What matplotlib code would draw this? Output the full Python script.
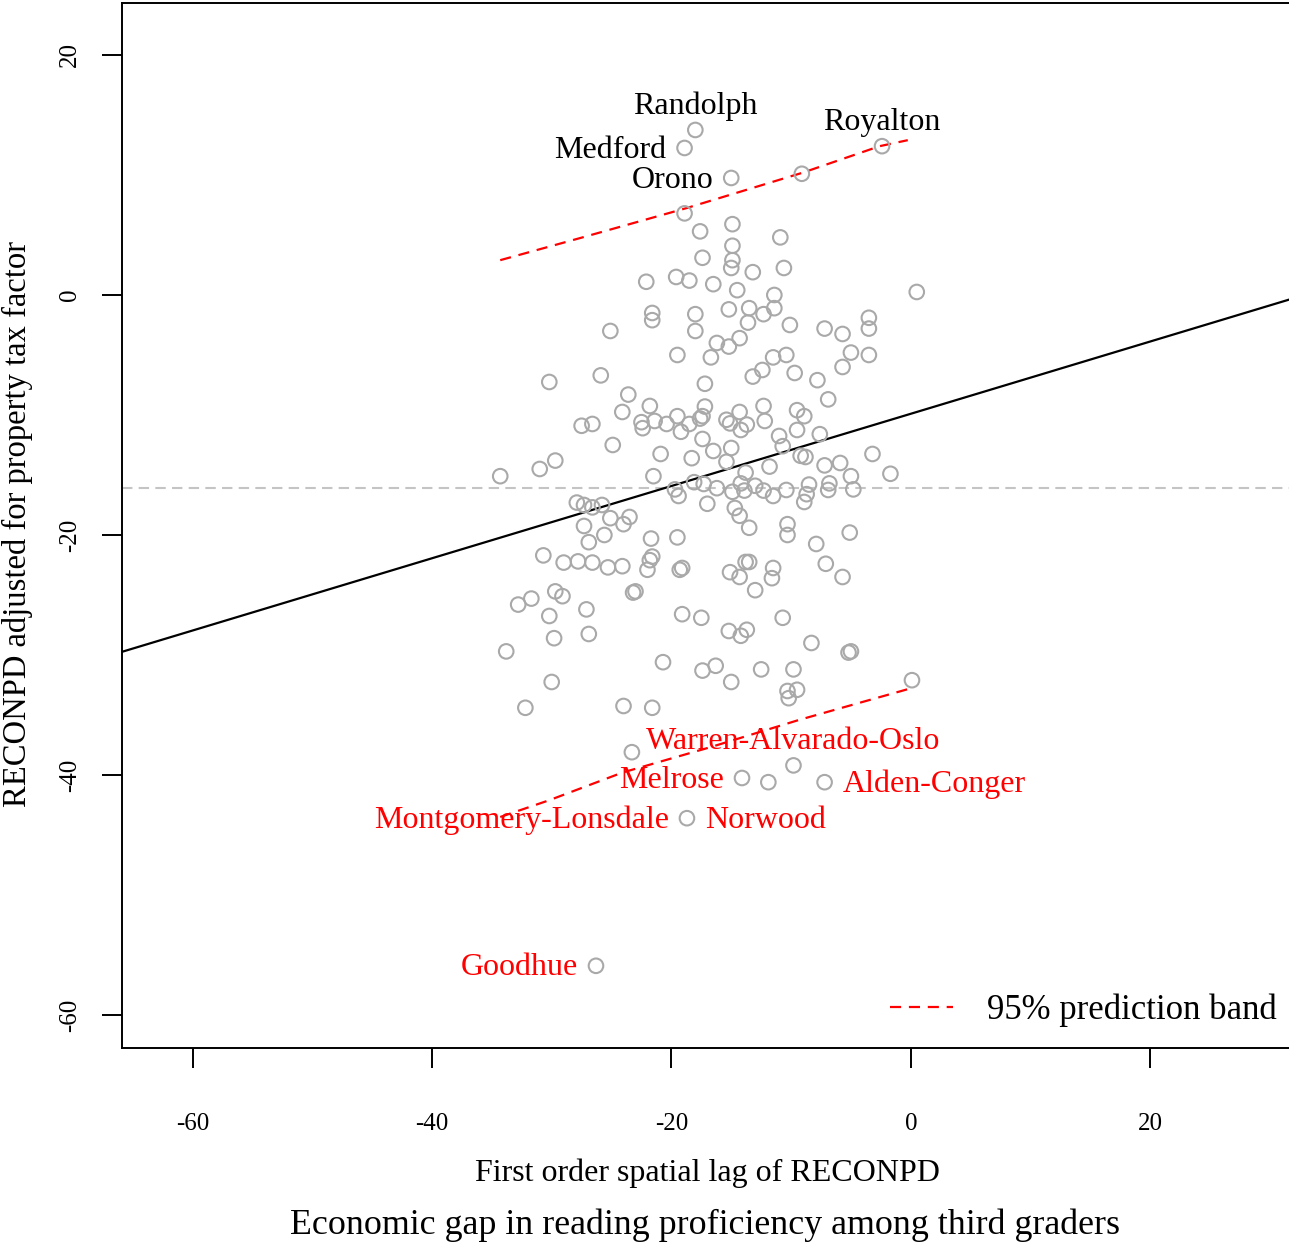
import numpy as np
import matplotlib.pyplot as plt
from matplotlib.lines import Line2D

plt.rcParams['font.family'] = ['Liberation Serif', 'DejaVu Serif']
plt.rcParams['axes.unicode_minus'] = False

# school districts: spatial lag of RECONPD vs adjusted RECONPD
lag_x = [-18.0, -18.9, -2.4, -15.0, -9.1, -18.9, -14.9, -10.9, -17.6, -14.9,
         -14.9, -17.4, -15.0, -10.6, -13.2, -22.1, -19.6, -18.5, -16.5, -14.5,
         -11.4, 0.5, -3.5, -3.5, -13.5, -15.2, -11.4, -12.3, -21.6, -21.6,
         -18.0, -13.6, -10.1, -25.1, -18.0, -16.2, -14.3, -15.2, -7.2, -5.7,
         -19.5, -16.7, -11.5, -10.4, -5.0, -3.5, -5.7, -12.4, -9.7, -13.2,
         -25.9, -30.2, -17.2, -7.8, -23.6, -6.9, -24.1, -21.8, -17.2, -14.3,
         -12.3, -9.5, -8.9, -19.5, -17.6, -17.4, -22.5, -21.4, -15.4, -15.1,
         -20.4, -18.5, -22.4, -27.5, -26.6, -19.2, -13.7, -14.2, -12.2, -9.5,
         -11.0, -7.6, -17.4, -10.7, -24.9, -15.0, -16.5, -20.9, -9.2, -8.8,
         -3.2, -18.3, -15.4, -29.7, -7.2, -5.9, -11.8, -31.0, -34.3, -1.7,
         -5.0, -21.5, -13.8, -14.2, -13.0, -18.1, -17.3, -16.2, -19.7, -14.9,
         -13.9, -12.3, -8.5, -6.8, -6.9, -4.8, -10.4, -8.7, -11.5, -19.4,
         -8.9, -17.0, -14.7, -27.9, -27.3, -26.6, -25.8, -25.1, -23.5, -14.3,
         -24.0, -27.3, -10.3, -13.5, -25.6, -10.3, -5.1, -26.9, -21.7, -19.5,
         -7.9, -30.7, -21.6, -21.8, -29.0, -27.8, -26.6, -25.3, -24.1, -22.0,
         -19.1, -19.3, -13.8, -13.5, -15.1, -14.3, -11.5, -11.6, -7.1, -5.7,
         -23.2, -23.0, -29.7, -29.1, -31.7, -32.8, -13.0, -27.1, -19.1, -17.5,
         -10.7, -30.2, -26.9, -29.8, -15.2, -13.7, -14.2, -8.3, -33.8, -5.0,
         -5.2, -20.7, -16.3, -17.4, -12.5, -9.8, -30.0, -15.0, 0.1, -10.3,
         -9.5, -10.2, -32.2, -24.0, -21.6, -23.3, -9.8, -14.1, -11.9, -7.2,
         -18.7, -26.3]
reconpd = [13.75, 12.25, 12.4, 9.75, 10.1, 6.8, 5.9, 4.8, 5.3, 4.1,
           2.9, 3.1, 2.25, 2.25, 1.9, 1.1, 1.5, 1.2, 0.9, 0.4,
           0.0, 0.25, -1.9, -2.8, -1.1, -1.2, -1.1, -1.6, -1.5, -2.1,
           -1.6, -2.3, -2.5, -3.0, -3.0, -4.0, -3.6, -4.3, -2.8, -3.25,
           -5.0, -5.2, -5.2, -5.0, -4.8, -5.0, -6.0, -6.25, -6.5, -6.8,
           -6.7, -7.25, -7.4, -7.1, -8.3, -8.7, -9.75, -9.25, -9.3, -9.75,
           -9.25, -9.6, -10.1, -10.1, -10.3, -10.1, -10.6, -10.5, -10.4, -10.7,
           -10.75, -10.75, -11.1, -10.9, -10.75, -11.4, -10.8, -11.25, -10.5, -11.25,
           -11.75, -11.6, -12.0, -12.6, -12.5, -12.75, -13.0, -13.25, -13.4, -13.5,
           -13.25, -13.6, -13.9, -13.8, -14.2, -14.0, -14.3, -14.5, -15.1, -14.9,
           -15.1, -15.1, -14.8, -15.7, -15.9, -15.6, -15.75, -16.1, -16.2, -16.4,
           -16.3, -16.3, -15.8, -15.7, -16.25, -16.2, -16.25, -16.6, -16.75, -16.75,
           -17.25, -17.4, -17.75, -17.3, -17.5, -17.7, -17.5, -18.6, -18.5, -18.4,
           -19.1, -19.25, -19.1, -19.4, -20.0, -20.0, -19.8, -20.6, -20.3, -20.2,
           -20.75, -21.7, -21.8, -22.1, -22.3, -22.2, -22.3, -22.7, -22.6, -22.9,
           -22.75, -22.9, -22.25, -22.25, -23.1, -23.5, -22.75, -23.6, -22.4, -23.5,
           -24.8, -24.7, -24.7, -25.1, -25.3, -25.8, -24.6, -26.2, -26.6, -26.9,
           -26.9, -26.75, -28.25, -28.6, -28.0, -27.9, -28.4, -29.0, -29.7, -29.7,
           -29.8, -30.6, -30.9, -31.3, -31.2, -31.2, -32.25, -32.25, -32.1, -33.0,
           -32.9, -33.6, -34.4, -34.25, -34.4, -38.1, -39.2, -40.25, -40.6, -40.6,
           -43.6, -55.9]

# labelled districts
top_names = ['Randolph', 'Medford', 'Royalton', 'Orono']
top_x = [-18.0, -18.9, -2.4, -15.0]
top_y = [13.75, 12.25, 12.4, 9.75]
top_side = ['top', 'left', 'top', 'left']

low_names = ['Warren-Alvarado-Oslo', 'Melrose', 'Alden-Conger', 'Norwood',
             'Montgomery-Lonsdale', 'Goodhue']
low_x = [-9.8, -14.1, -7.2, -18.7, -18.7, -26.3]
low_y = [-39.2, -40.25, -40.6, -43.6, -43.6, -55.9]
low_side = ['top', 'left', 'right', 'right', 'left', 'left']

# fitted line, mean and 95% prediction band
intercept, slope = -9.9, 0.301
mean_y = -16.1
band_x_up = [-34.3, -27.6, -18.7, -9.0, -2.6, -0.25]
band_up = [2.9, 4.75, 7.25, 10.2, 12.4, 12.9]
band_x_low = [-34.3, -30.2, -24.1, -16.8, -9.3, 0.1]
band_low = [-43.5, -42.1, -39.8, -37.7, -35.4, -32.75]

W, H = 1289, 1242
fig = plt.figure(figsize=(W / 100, H / 100), dpi=100)
ax = fig.add_axes([122 / W, 1 - 1048 / H, 1 - 122 / W, (1048 - 3) / H])
ax.set_xlim(-65.9, 31.6)
ax.set_ylim(-62.75, 24.33)

dash = (0, (5, 3.5))
ax.axhline(mean_y, color='#c4c4c4', lw=1.5, ls=(0, (5, 3)), zorder=1)
xx = np.array(ax.get_xlim())
ax.plot(xx, intercept + slope * xx, color='black', lw=1.6, zorder=2)
ax.plot(band_x_up, band_up, color='red', lw=1.6, ls=dash, zorder=3)
ax.plot(band_x_low, band_low, color='red', lw=1.6, ls=dash, zorder=3)
ax.scatter(lag_x, reconpd, s=110, facecolors='none', edgecolors='#a9a9a9',
           linewidths=1.5, zorder=4)

offs = {'top': ((0, 17), 'center', 'center'),
        'left': ((-13, -1.5), 'right', 'center'),
        'right': ((13, -1.5), 'left', 'center')}
for names, xs, ys, sides, col in [(top_names, top_x, top_y, top_side, 'black'),
                                  (low_names, low_x, low_y, low_side, 'red')]:
    for n, x, y, s in zip(names, xs, ys, sides):
        o, ha, va = offs[s]
        ax.annotate(n, (x, y), xytext=o, textcoords='offset points',
                    ha=ha, va=va, color=col, fontsize=23, zorder=5)

ax.legend([Line2D([0], [0], color='red', lw=1.6, ls=dash)],
          ['95% prediction band'], loc='center right', frameon=False,
          fontsize=25, handlelength=1.8, handletextpad=1.0,
          borderpad=0, borderaxespad=0,
          bbox_to_anchor=(1277 / W, 1 - 1010 / H),
          bbox_transform=fig.transFigure)

ax.spines['right'].set_visible(False)
for sp in ['left', 'top', 'bottom']:
    ax.spines[sp].set_linewidth(1.4)

ax.set_xticks([-60, -40, -20, 0, 20])
ax.set_yticks([-60, -40, -20, 0, 20])
ax.set_yticklabels(['-60', '-40', '-20', '0', '20'], rotation=90, va='center')
ax.tick_params(axis='both', length=14.5, width=1.4, labelsize=18)
ax.tick_params(axis='x', pad=32)
ax.tick_params(axis='y', pad=15)

fig.text(707 / W, 1 - 1173 / H, 'First order spatial lag of RECONPD',
         ha='center', va='center', fontsize=23)
fig.text(17 / W, 1 - 524 / H, 'RECONPD adjusted for property tax factor',
         ha='center', va='center', rotation=90, fontsize=23.5)
fig.text(705 / W, 1 - 1225 / H,
         'Economic gap in reading proficiency among third graders',
         ha='center', va='center', fontsize=25.8)

fig.savefig('out.png', dpi=100)
